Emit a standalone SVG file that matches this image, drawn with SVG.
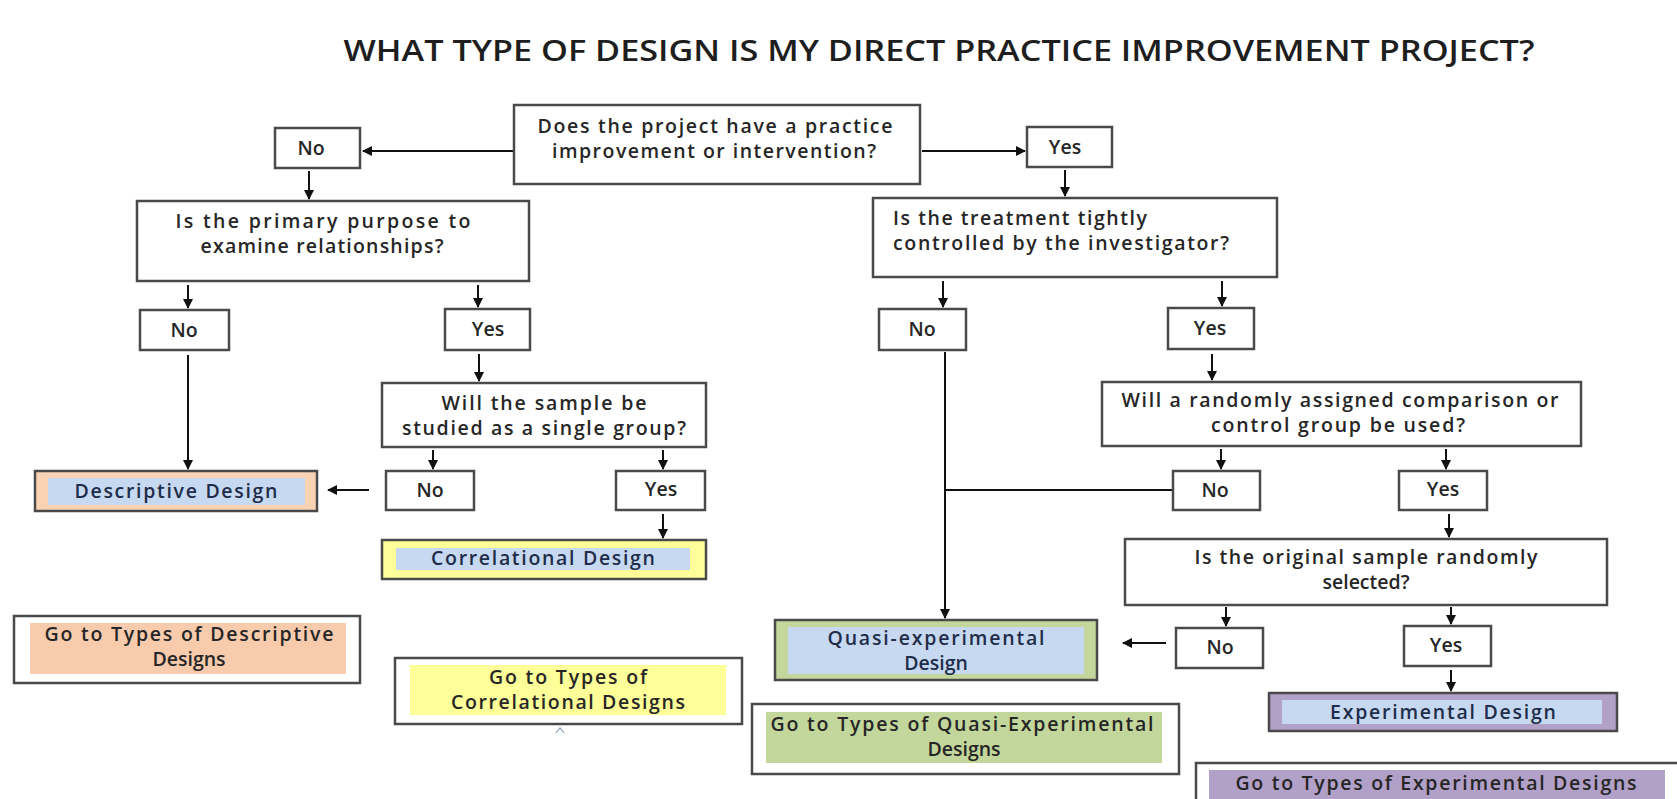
<svg xmlns="http://www.w3.org/2000/svg" width="1677" height="799" viewBox="0 0 1677 799">
<defs>
<marker id="ah" viewBox="0 0 10 10" refX="9" refY="5" markerWidth="10" markerHeight="10" markerUnits="userSpaceOnUse" orient="auto">
<path d="M0,0 L10,5 L0,10 z" fill="#111"/>
</marker>
<style>
.box{fill:#fff;stroke:#4a4a4a;stroke-width:2.5}
.t{font-family:"Open Sans","Liberation Sans",sans-serif;font-size:19.5px;font-weight:600;fill:#262626;text-anchor:middle}
.tl{text-anchor:start}
.ln{stroke:#111;stroke-width:2;fill:none}
.blue{fill:#C6D9F1}
.peach{fill:#F8CBAD}
.yel{fill:#FFFF99}
.grn{fill:#C3D69B}
.pur{fill:#B1A0C7}
.dt{fill:#1f2d4a}
</style>
</defs>
<rect width="1677" height="799" fill="#fff"/>
<text x="939" y="61" font-family="'Open Sans','Liberation Sans',sans-serif" font-size="28" font-weight="600" fill="#1e1e1e" text-anchor="middle" textLength="1191" lengthAdjust="spacingAndGlyphs">WHAT TYPE OF DESIGN IS MY DIRECT PRACTICE IMPROVEMENT PROJECT?</text>

<g id="connectors">
<line class="ln" x1="514" y1="151" x2="363" y2="151" marker-end="url(#ah)"/>
<line class="ln" x1="922" y1="151" x2="1025" y2="151" marker-end="url(#ah)"/>
<line class="ln" x1="309" y1="171" x2="309" y2="199" marker-end="url(#ah)"/>
<line class="ln" x1="1065" y1="170" x2="1065" y2="196" marker-end="url(#ah)"/>
<line class="ln" x1="188" y1="285" x2="188" y2="308" marker-end="url(#ah)"/>
<line class="ln" x1="478" y1="285" x2="478" y2="307" marker-end="url(#ah)"/>
<line class="ln" x1="943" y1="281" x2="943" y2="307" marker-end="url(#ah)"/>
<line class="ln" x1="1222" y1="281" x2="1222" y2="306" marker-end="url(#ah)"/>
<line class="ln" x1="479" y1="354" x2="479" y2="381" marker-end="url(#ah)"/>
<line class="ln" x1="1212" y1="354" x2="1212" y2="380" marker-end="url(#ah)"/>
<line class="ln" x1="188" y1="355" x2="188" y2="469" marker-end="url(#ah)"/>
<line class="ln" x1="433" y1="450" x2="433" y2="469" marker-end="url(#ah)"/>
<line class="ln" x1="663" y1="450" x2="663" y2="469" marker-end="url(#ah)"/>
<line class="ln" x1="369" y1="490" x2="328" y2="490" marker-end="url(#ah)"/>
<line class="ln" x1="663" y1="514" x2="663" y2="538" marker-end="url(#ah)"/>
<line class="ln" x1="1221" y1="449" x2="1221" y2="469" marker-end="url(#ah)"/>
<line class="ln" x1="1446" y1="449" x2="1446" y2="469" marker-end="url(#ah)"/>
<line class="ln" x1="945" y1="352" x2="945" y2="618" marker-end="url(#ah)"/>
<line class="ln" x1="1173" y1="490" x2="945" y2="490"/>
<line class="ln" x1="1449" y1="514" x2="1449" y2="537" marker-end="url(#ah)"/>
<line class="ln" x1="1226" y1="607" x2="1226" y2="626" marker-end="url(#ah)"/>
<line class="ln" x1="1451" y1="607" x2="1451" y2="624" marker-end="url(#ah)"/>
<line class="ln" x1="1166" y1="643" x2="1123" y2="643" marker-end="url(#ah)"/>
<line class="ln" x1="1451" y1="670" x2="1451" y2="691" marker-end="url(#ah)"/>
</g>

<g id="q1"><rect class="box" x="514" y="105" width="406" height="79"/>
<text class="t" x="715" y="133" textLength="355">Does the project have a practice</text>
<text class="t" x="714" y="158" textLength="324">improvement or intervention?</text></g>
<g id="no1"><rect class="box" x="275" y="128" width="85" height="40"/><text class="t" x="311" y="155">No</text></g>
<g id="yes1"><rect class="box" x="1027" y="127" width="85" height="40"/><text class="t" x="1065" y="154">Yes</text></g>

<g id="q2"><rect class="box" x="137" y="201" width="392" height="80"/>
<text class="t" x="323" y="228" textLength="295">Is the primary purpose to</text>
<text class="t" x="322" y="253" textLength="243">examine relationships?</text></g>
<g id="q3"><rect class="box" x="873" y="198" width="404" height="79"/>
<text class="t tl" x="893" y="225" textLength="254">Is the treatment tightly</text>
<text class="t tl" x="893" y="250" textLength="336">controlled by the investigator?</text></g>

<g id="no2"><rect class="box" x="140" y="310" width="89" height="40"/><text class="t" x="184" y="337">No</text></g>
<g id="yes2"><rect class="box" x="445" y="309" width="85" height="41"/><text class="t" x="488" y="336">Yes</text></g>
<g id="no3"><rect class="box" x="879" y="309" width="87" height="41"/><text class="t" x="922" y="336">No</text></g>
<g id="yes3"><rect class="box" x="1168" y="308" width="86" height="41"/><text class="t" x="1210" y="335">Yes</text></g>

<g id="q4"><rect class="box" x="382" y="383" width="324" height="64"/>
<text class="t" x="544" y="410" textLength="205">Will the sample be</text>
<text class="t" x="544" y="435" textLength="284">studied as a single group?</text></g>
<g id="q5"><rect class="box" x="1102" y="382" width="479" height="64"/>
<text class="t" x="1340" y="407" textLength="437">Will a randomly assigned comparison or</text>
<text class="t" x="1338" y="432" textLength="254">control group be used?</text></g>

<g id="descriptive"><rect x="35" y="471" width="282" height="40" fill="#FAD3B4" stroke="#4a4a4a" stroke-width="2.5"/>
<rect class="blue" x="48" y="478" width="257" height="27"/>
<text class="t dt" x="176" y="498" textLength="203">Descriptive Design</text></g>
<g id="no4"><rect class="box" x="386" y="471" width="88" height="39"/><text class="t" x="430" y="497">No</text></g>
<g id="yes4"><rect class="box" x="616" y="471" width="89" height="39"/><text class="t" x="661" y="496">Yes</text></g>
<g id="no5"><rect class="box" x="1173" y="471" width="87" height="39"/><text class="t" x="1215" y="497">No</text></g>
<g id="yes5"><rect class="box" x="1399" y="471" width="88" height="39"/><text class="t" x="1443" y="496">Yes</text></g>

<g id="correlational"><rect x="382" y="540" width="324" height="39" fill="#FFFF99" stroke="#4a4a4a" stroke-width="2.5"/>
<rect class="blue" x="396" y="548" width="294" height="22"/>
<text class="t dt" x="543" y="565" textLength="224">Correlational Design</text></g>
<g id="q6"><rect class="box" x="1125" y="539" width="482" height="66"/>
<text class="t" x="1366" y="564" textLength="343">Is the original sample randomly</text>
<text class="t" x="1366" y="589">selected?</text></g>

<g id="goto-descriptive"><rect class="box" x="14" y="616" width="346" height="67"/>
<rect class="peach" x="30" y="623" width="316" height="51"/>
<text class="t" x="189" y="641" textLength="289">Go to Types of Descriptive</text>
<text class="t" x="189" y="666">Designs</text></g>
<g id="quasi"><rect x="775" y="620" width="322" height="60" fill="#C3D69B" stroke="#4a4a4a" stroke-width="2.5"/>
<rect class="blue" x="788" y="627" width="296" height="47"/>
<text class="t dt" x="936" y="645" textLength="217">Quasi-experimental</text>
<text class="t dt" x="936" y="670">Design</text></g>
<g id="no6"><rect class="box" x="1176" y="628" width="87" height="40"/><text class="t" x="1220" y="654">No</text></g>
<g id="yes6"><rect class="box" x="1404" y="626" width="87" height="40"/><text class="t" x="1446" y="652">Yes</text></g>
<g id="experimental"><rect x="1269" y="693" width="348" height="38" fill="#B1A0C7" stroke="#4a4a4a" stroke-width="2.5"/>
<rect class="blue" x="1282" y="700" width="320" height="24"/>
<text class="t dt" x="1443" y="719" textLength="226">Experimental Design</text></g>
<g id="goto-correlational"><rect class="box" x="395" y="658" width="347" height="66"/>
<rect class="yel" x="410" y="665" width="316" height="50"/>
<text class="t" x="568" y="684" textLength="158">Go to Types of</text>
<text class="t" x="568" y="709" textLength="234">Correlational Designs</text></g>
<polyline points="556,733 560,728 564,733" fill="none" stroke="#8a9ab0" stroke-width="1.2"/>
<g id="goto-quasi"><rect class="box" x="752" y="704" width="427" height="70"/>
<rect class="grn" x="766" y="712" width="396" height="51"/>
<text class="t" x="962" y="731" textLength="383">Go to Types of Quasi-Experimental</text>
<text class="t" x="964" y="756">Designs</text></g>
<g id="goto-experimental"><rect class="box" x="1196" y="763" width="500" height="50"/>
<rect class="pur" x="1209" y="770" width="456" height="30"/>
<text class="t" x="1436" y="790" textLength="401">Go to Types of Experimental Designs</text></g>
</svg>
